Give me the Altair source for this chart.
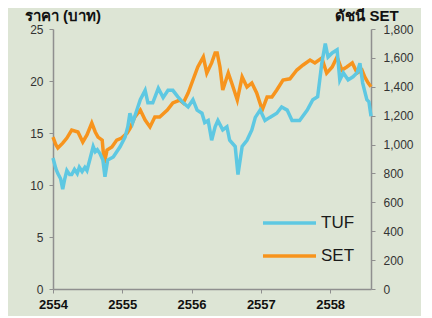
import altair as alt
import pandas as pd

# ---- data ----
tuf_year = [2554.00, 2554.04, 2554.07, 2554.11, 2554.14, 2554.17, 2554.20, 2554.24, 2554.27,
            2554.31, 2554.35, 2554.38, 2554.42, 2554.46, 2554.49, 2554.53, 2554.58, 2554.61,
            2554.64, 2554.68, 2554.72, 2554.75, 2554.79, 2554.87, 2554.92, 2554.97, 2555.04,
            2555.08, 2555.11, 2555.15, 2555.20, 2555.26, 2555.33, 2555.37, 2555.44, 2555.52,
            2555.59, 2555.66, 2555.73, 2555.80, 2555.88, 2555.95, 2556.02, 2556.08, 2556.15,
            2556.19, 2556.24, 2556.29, 2556.34, 2556.38, 2556.45, 2556.51, 2556.55, 2556.63,
            2556.67, 2556.73, 2556.80, 2556.87, 2556.92, 2556.99, 2557.06, 2557.13, 2557.23,
            2557.30, 2557.38, 2557.45, 2557.49, 2557.56, 2557.67, 2557.75, 2557.82, 2557.88,
            2557.93, 2557.97, 2558.03, 2558.10, 2558.14, 2558.19, 2558.26, 2558.33, 2558.39,
            2558.43, 2558.47, 2558.53, 2558.56, 2558.59]
tuf_price = [12.6, 11.6, 11.1, 10.6, 9.6, 10.6, 11.4, 11.0, 11.0,
             11.5, 11.1, 11.7, 11.3, 11.7, 11.4, 12.4, 13.7, 13.2,
             13.4, 13.0, 12.4, 10.8, 12.4, 12.7, 13.2, 13.7, 14.6,
             15.6, 16.9, 16.0, 17.0, 18.2, 19.1, 17.9, 17.9, 19.3,
             18.4, 19.1, 19.1, 18.5, 17.9, 17.5, 18.2, 17.2, 16.9,
             16.0, 16.2, 14.3, 15.6, 16.2, 15.3, 15.6, 14.3, 13.7,
             11.0, 13.7, 14.3, 15.3, 16.5, 17.2, 16.2, 16.5, 16.9,
             17.5, 17.2, 16.2, 16.2, 16.2, 17.2, 18.2, 18.5, 21.7,
             23.6, 22.3, 22.7, 23.0, 20.1, 20.8, 20.1, 20.4, 20.8,
             21.7, 19.8, 18.2, 18.0, 16.6]

set_year = [2554.00, 2554.04, 2554.07, 2554.14, 2554.20, 2554.27, 2554.36, 2554.43, 2554.49,
            2554.56, 2554.61, 2554.65, 2554.71, 2554.74, 2554.78, 2554.85, 2554.92, 2554.99,
            2555.07, 2555.11, 2555.18, 2555.26, 2555.33, 2555.40, 2555.47, 2555.54, 2555.65,
            2555.73, 2555.83, 2555.88, 2555.95, 2556.02, 2556.09, 2556.17, 2556.22, 2556.29,
            2556.34, 2556.37, 2556.41, 2556.45, 2556.53, 2556.58, 2556.66, 2556.73, 2556.80,
            2556.87, 2556.94, 2557.02, 2557.09, 2557.16, 2557.23, 2557.32, 2557.42, 2557.52,
            2557.61, 2557.71, 2557.78, 2557.88, 2557.95, 2558.03, 2558.10, 2558.17, 2558.24,
            2558.32, 2558.39, 2558.46, 2558.50, 2558.55, 2558.59]
set_index = [1052, 1000, 976, 1010, 1045, 1100, 1087, 1018, 1066,
             1149, 1087, 1052, 1031, 872, 962, 983, 1031, 1045,
             1080, 1110, 1190, 1239, 1170, 1122, 1191, 1191, 1239,
             1288, 1308, 1288, 1357, 1447, 1537, 1606, 1495, 1565,
             1634, 1634, 1537, 1378, 1495, 1426, 1308, 1468, 1398,
             1426, 1357, 1239, 1329, 1329, 1378, 1447, 1455, 1516,
             1551, 1585, 1565, 1599, 1495, 1537, 1606, 1516, 1537,
             1565, 1495, 1516, 1468, 1426, 1400]

year_ticks = [2554, 2555, 2556, 2557, 2558]
price_ticks = [0, 5, 10, 15, 20, 25]
index_ticks = [0, 200, 400, 600, 800, 1000, 1200, 1400, 1600, 1800]
series_names = ["TUF", "SET"]
left_title = "ราคา (บาท)"
right_title = "ดัชนี SET"

BLUE = "#5ec8e2"
ORANGE = "#f7941d"
BG = "#dde5d5"
AX = "#8f8f8f"
FONT = "Liberation Sans"

tuf = pd.DataFrame({"year": tuf_year, "value": tuf_price})
sett = pd.DataFrame({"year": set_year, "value": set_index})

xscale = alt.Scale(domain=[2554, 2558.59], nice=False, zero=False)
xaxis = alt.Axis(values=year_ticks, format="d", title=None, labelFont=FONT,
                 labelFontWeight="bold", labelFontSize=13, labelColor="#111",
                 tickSize=4, labelPadding=5, domainColor=AX, tickColor=AX,
                 domainWidth=1.5, grid=False, labelFlush=False)

set_line = alt.Chart(sett).mark_line(color=ORANGE, strokeWidth=3.5).encode(
    x=alt.X("year:Q", scale=xscale, axis=xaxis),
    y=alt.Y("value:Q", scale=alt.Scale(domain=[0, 1800], nice=False),
            axis=alt.Axis(orient="right", values=index_ticks, format=",.0f", title=None,
                          labelFont=FONT, labelFontSize=12, labelColor="#333",
                          tickSize=4, labelPadding=8, domainColor=AX, tickColor=AX,
                          domainWidth=1.5, grid=False)),
)

tuf_line = alt.Chart(tuf).mark_line(color=BLUE, strokeWidth=3.5).encode(
    x=alt.X("year:Q", scale=xscale, axis=xaxis),
    y=alt.Y("value:Q", scale=alt.Scale(domain=[0, 25], nice=False),
            axis=alt.Axis(orient="left", values=price_ticks, title=None,
                          labelFont=FONT, labelFontSize=12, labelColor="#333",
                          tickSize=4, labelPadding=6, domainColor=AX, tickColor=AX,
                          domainWidth=1.5, grid=False)),
)

one = alt.Data(values=[{"k": 0}])

def legend_entry(name, color, ypos):
    rule = alt.Chart(one).mark_rule(color=color, strokeWidth=3.5).encode(
        x=alt.value(210), x2=alt.value(263), y=alt.value(ypos))
    txt = alt.Chart(one).mark_text(text=name, align="left", baseline="middle",
                                   font=FONT, fontSize=17, color="#1a1a1a").encode(
        x=alt.value(268), y=alt.value(ypos))
    return rule + txt

leg1 = legend_entry(series_names[0], BLUE, 194)
leg2 = legend_entry(series_names[1], ORANGE, 227)

t_left = alt.Chart(one).mark_text(text=left_title, align="center", baseline="alphabetic",
                                  fontSize=15, fontWeight="bold", color="#111").encode(
    x=alt.value(10), y=alt.value(-8))
t_right = alt.Chart(one).mark_text(text=right_title, align="center", baseline="alphabetic",
                                   fontSize=15, fontWeight="bold", color="#111").encode(
    x=alt.value(314), y=alt.value(-8))

chart = alt.layer(set_line, tuf_line, leg1, leg2, t_left, t_right).resolve_scale(
    y="independent"
).properties(
    width=318, height=260, background=BG,
    padding={"left": 45, "top": 21, "right": 50, "bottom": 27},
    autosize=alt.AutoSizeParams(type="none"),
).configure_view(stroke=None)

chart.save("out.html", embed_options={"renderer": "svg", "actions": False})
